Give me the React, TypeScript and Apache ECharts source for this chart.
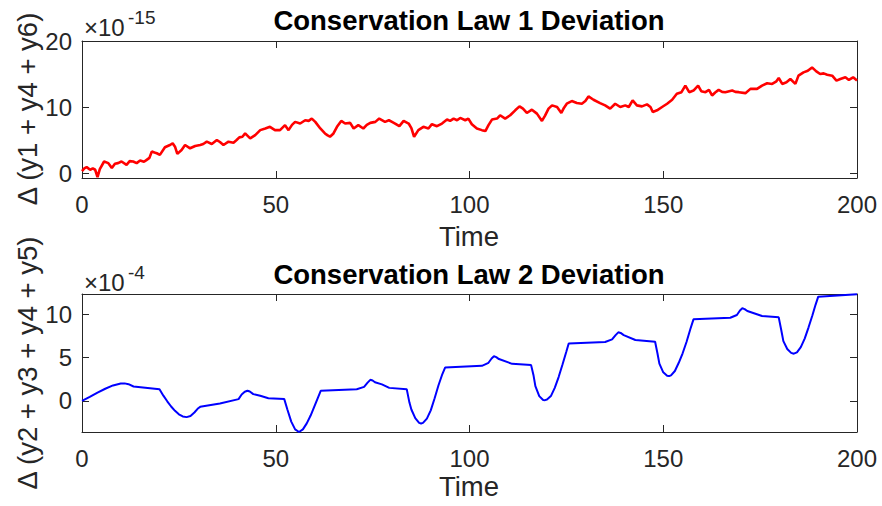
import React, { useEffect, useRef } from "react";
import * as echarts from "echarts";

// Conservation law 1: deviation of (y1 + y4 + y6), in units of 1e-15
const law1Time = [
  0, 0.6, 1.2, 2.1, 2.8, 3.4, 4.0, 4.6, 5.7, 6.8, 7.7, 8.5, 9.3, 10.2, 11.5, 12.3, 13.2, 14.1, 15, 16.0,
  16.7, 17.4, 18, 18.7, 19.3, 20.1, 21.4, 22.7, 23.4, 24, 24.6, 25.7, 26.6, 27.9, 29.2, 30.5, 31.3, 32.2, 33.5, 34.8,
  35.6, 36.5, 37.8, 39.1, 39.9, 40.6, 41.4, 42.1, 43.4, 44.7, 46, 47.3, 48.5, 49.8, 51.1, 52.4, 53.3, 54.2, 55, 56.3,
  57.6, 58.5, 59.3, 60.2, 61.5, 62.7, 63.4, 64, 64.9, 65.8, 66.9, 67.9, 69.2, 70.1, 71.3, 72.6, 73.5, 74.4, 75.7, 76.7,
  78.2, 79.2, 80.0, 80.8, 81.9, 83, 84.3, 85.0, 85.7, 86.8, 88.1, 89.4, 90.3, 91.6, 92.9, 94.2, 95.0, 95.9, 96.8, 97.6,
  98.9, 99.7, 100.6, 101.9, 103.2, 104.1, 104.9, 105.8, 107.1, 107.9, 109.2, 110.5, 111.8, 112.9, 113.8, 114.8, 116.1, 117.4, 118.7, 119.5,
  120.4, 121.3, 122.6, 123.7, 124.4, 125.1, 126.4, 127.7, 129, 129.9, 130.7, 132, 133.7, 135, 136.3, 137.6, 138.9, 140.2, 141.1, 142.1,
  143.2, 144.5, 145.8, 146.7, 147.3, 148.4, 149.7, 151, 152.3, 153.5, 154.7, 155.7, 156.7, 157.8, 159, 159.8, 160.9, 161.8, 162.6, 163.4,
  164.3, 165.2, 166, 167.8, 168.6, 169.5, 171.2, 172.5, 174.2, 175.5, 176.8, 178.1, 179.2, 179.8, 180.7, 181.8, 182.8, 184.1, 184.9, 186.2,
  187.3, 188.4, 189.5, 190.5, 191.4, 192.3, 193.6, 194.7, 195.7, 197, 197.9, 199, 200,
];
const law1Dev = [
  0.3, 0.7, 0.9, 0.5, 0.7, 0.5, -0.6, 0.6, 1.75, 1.5, 0.75, 1.4, 1.5, 1.75, 1.25, 1.8, 1.75, 1.5, 1.9, 1.7,
  2.0, 2.3, 3.25, 3.1, 3.0, 2.75, 3.9, 4.25, 4.5, 4.0, 2.9, 3.5, 4.25, 3.75, 4.1, 4.25, 4.4, 4.75, 4.4, 5.0,
  4.7, 4.25, 4.75, 4.6, 5.0, 5.4, 5.5, 6.0, 5.25, 5.75, 6.5, 6.75, 7.0, 6.5, 6.5, 7.25, 6.5, 7.3, 7.75, 7.5,
  8.0, 7.9, 8.25, 7.75, 6.75, 6.0, 5.7, 5.5, 6.0, 7.0, 7.9, 7.5, 7.6, 6.75, 7.25, 6.75, 7.3, 7.6, 7.75, 8.25,
  7.75, 8.0, 7.75, 7.5, 7.1, 7.9, 7.5, 6.8, 5.5, 6.5, 7.0, 6.75, 7.4, 7.1, 7.5, 8.1, 7.9, 8.25, 8.0, 8.35,
  8.0, 8.25, 7.4, 6.75, 6.5, 6.35, 7.25, 8.1, 8.25, 8.75, 8.25, 8.75, 9.5, 10.1, 9.75, 9.1, 9.6, 9.0, 7.9, 8.7,
  9.75, 10.25, 10.0, 9.1, 9.9, 10.5, 10.9, 10.6, 10.5, 10.9, 11.6, 11.1, 10.6, 10.25, 9.75, 10.5, 10.0, 10.25, 10.0, 11.0,
  10.25, 10.1, 10.4, 10.0, 9.25, 9.5, 10.0, 10.5, 11.1, 12.0, 12.25, 13.25, 12.25, 12.5, 13.25, 12.4, 12.25, 12.6, 11.75, 12.2,
  12.6, 12.3, 12.25, 12.5, 12.3, 12.25, 12.1, 12.75, 12.75, 13.25, 13.6, 13.5, 13.9, 14.4, 13.5, 13.75, 14.25, 13.5, 14.75, 15.25,
  15.5, 16.0, 15.4, 15.0, 15.1, 14.9, 14.75, 14.0, 14.25, 14.5, 14.1, 14.5, 14.0,
];

// Conservation law 2: deviation of (y2 + y3 + y4 + y5), in units of 1e-4
const law2Time = [
  0, 2, 4, 6, 8, 10, 11, 12, 13.3, 20, 21, 22, 23, 24, 25, 26, 27, 28, 29, 30,
  30.5, 35.6, 40.4, 41.2, 42, 42.7, 43.3, 44.2, 46, 48.1, 52.2, 53, 54, 55, 56, 57, 58, 59, 60, 61,
  61.6, 70.9, 72.8, 73.7, 74.4, 75, 75.6, 77.4, 79.3, 83.8, 84.5, 85, 86, 87, 87.5, 88, 89, 90, 91, 92,
  93, 93.7, 103.2, 104.9, 105.7, 106.3, 106.9, 107.6, 111, 115.9, 116.5, 117, 118, 119, 119.5, 120, 121, 122, 123, 124,
  125, 125.6, 135, 136.8, 137.7, 138.4, 139, 139.8, 142.8, 147.9, 148.5, 149, 150, 151, 151.5, 152, 153, 154, 155, 156,
  157, 157.8, 167.3, 169, 169.8, 170.4, 171, 171.7, 175.5, 179.8, 180.4, 181, 182, 183, 183.7, 184.5, 185.5, 186.5, 187.5, 188.5,
  189.3, 190, 200,
];
const law2Dev = [
  0, 0.45, 0.95, 1.4, 1.78, 2.0, 2.02, 1.93, 1.66, 1.35, 0.6, -0.05, -0.65, -1.15, -1.55, -1.8, -1.88, -1.75, -1.35, -0.85,
  -0.69, -0.3, 0.2, 0.74, 1.05, 1.16, 1.08, 0.78, 0.58, 0.31, 0.2, -1.0, -2.4, -3.3, -3.6, -3.3, -2.6, -1.7, -0.6, 0.5,
  1.16, 1.35, 1.62, 2.1, 2.43, 2.35, 2.15, 1.9, 1.5, 1.35, -0.2, -1.0, -2.0, -2.55, -2.62, -2.55, -2.05, -1.1, 0.3, 1.8,
  3.1, 3.85, 4.05, 4.4, 4.9, 5.15, 5.05, 4.83, 4.28, 4.13, 3.0, 1.7, 0.55, 0.1, 0.08, 0.15, 0.55, 1.5, 2.75, 4.2,
  5.7, 6.64, 6.8, 7.1, 7.6, 7.92, 7.85, 7.6, 7.03, 6.83, 5.5, 4.3, 3.3, 2.9, 2.86, 2.95, 3.45, 4.4, 5.5, 6.8,
  8.3, 9.42, 9.61, 9.92, 10.45, 10.7, 10.6, 10.38, 9.8, 9.65, 8.3, 6.9, 6.0, 5.55, 5.45, 5.6, 6.2, 7.2, 8.5, 9.9,
  11.1, 12.04, 12.33,
];

const timeTicks = [0, 50, 100, 150, 200];
const law1Ticks = [0, 10, 20];
const law2Ticks = [0, 5, 10];

const FONT = "'Liberation Sans', Arial, Helvetica, sans-serif";
const AXIS_COLOR = "#262626";

function xAxisFor(gridIndex: number, position: "top" | "bottom") {
  const labels = position === "bottom";
  return {
    type: "value",
    gridIndex,
    position,
    min: 0,
    max: 200,
    interval: 50,
    axisLine: { show: true, onZero: false, lineStyle: { color: AXIS_COLOR, width: 1 } },
    axisTick: {
      show: true,
      inside: true,
      length: 7,
      customValues: timeTicks,
      lineStyle: { color: AXIS_COLOR, width: 1 },
    },
    axisLabel: {
      show: labels,
      customValues: timeTicks,
      fontSize: 24,
      fontFamily: FONT,
      color: AXIS_COLOR,
      margin: 14,
    },
    splitLine: { show: false },
  };
}

function yAxisFor(
  gridIndex: number,
  position: "left" | "right",
  min: number,
  max: number,
  ticks: number[]
) {
  const labels = position === "left";
  return {
    type: "value",
    gridIndex,
    position,
    min,
    max,
    axisLine: { show: true, onZero: false, lineStyle: { color: AXIS_COLOR, width: 1 } },
    axisTick: {
      show: true,
      inside: true,
      length: 7,
      customValues: ticks,
      lineStyle: { color: AXIS_COLOR, width: 1 },
    },
    axisLabel: {
      show: labels,
      customValues: ticks,
      fontSize: 24,
      fontFamily: FONT,
      color: AXIS_COLOR,
      margin: 10,
    },
    splitLine: { show: false },
  };
}

function textEl(
  text: string,
  x: number,
  y: number,
  fontSize: number,
  opts: { bold?: boolean; rotate?: boolean; align?: string; fill?: string } = {}
) {
  return {
    type: "text",
    x,
    y,
    rotation: opts.rotate ? Math.PI / 2 : 0,
    silent: true,
    style: {
      text,
      fontSize,
      fontFamily: FONT,
      fontWeight: opts.bold ? "bold" : "normal",
      fill: opts.fill ?? AXIS_COLOR,
      align: opts.align ?? "center",
      verticalAlign: "middle",
    },
  };
}

export default function App() {
  const ref = useRef<HTMLDivElement>(null);

  useEffect(() => {
    document.body.style.margin = "0";
    if (!ref.current) return;
    const chart = echarts.init(ref.current, undefined, { renderer: "svg" });

    const law1Data = law1Time.map((t, i) => [t, law1Dev[i]]);
    const law2Data = law2Time.map((t, i) => [t, law2Dev[i]]);

    chart.setOption({
      animation: false,
      backgroundColor: "#ffffff",
      grid: [
        { left: 82, right: 25, top: 41, height: 137 },
        { left: 82, right: 25, top: 294, height: 138 },
      ],
      xAxis: [
        xAxisFor(0, "bottom"),
        xAxisFor(0, "top"),
        xAxisFor(1, "bottom"),
        xAxisFor(1, "top"),
      ],
      yAxis: [
        yAxisFor(0, "left", -0.75, 20, law1Ticks),
        yAxisFor(0, "right", -0.75, 20, law1Ticks),
        yAxisFor(1, "left", -3.6, 12.35, law2Ticks),
        yAxisFor(1, "right", -3.6, 12.35, law2Ticks),
      ],
      series: [
        {
          type: "line",
          xAxisIndex: 0,
          yAxisIndex: 0,
          data: law1Data,
          showSymbol: false,
          lineStyle: { color: "#ff0000", width: 2.6 },
          z: 1,
        },
        {
          type: "line",
          xAxisIndex: 2,
          yAxisIndex: 2,
          data: law2Data,
          showSymbol: false,
          lineStyle: { color: "#0000ff", width: 2 },
          z: 1,
        },
      ],
      graphic: [
        textEl("Conservation Law 1 Deviation", 469, 20, 27.5, { bold: true, fill: "#000000" }),
        textEl("Conservation Law 2 Deviation", 469, 274, 27.5, { bold: true, fill: "#000000" }),
        textEl("Time", 469, 236, 27.5),
        textEl("Time", 469, 486, 27.5),
        textEl("\u0394 (y1 + y4 + y6)", 27, 109, 27.5, { rotate: true }),
        textEl("\u0394 (y2 + y3 + y4 + y5)", 27, 363, 27.5, { rotate: true }),
        textEl("\u00d710", 84, 27, 24, { align: "left" }),
        textEl("-15", 128, 17, 19, { align: "left" }),
        textEl("\u00d710", 84, 282, 24, { align: "left" }),
        textEl("-4", 128, 272, 19, { align: "left" }),
      ],
    });

    return () => {
      chart.dispose();
    };
  }, []);

  return <div ref={ref} style={{ width: 882, height: 506 }} />;
}
